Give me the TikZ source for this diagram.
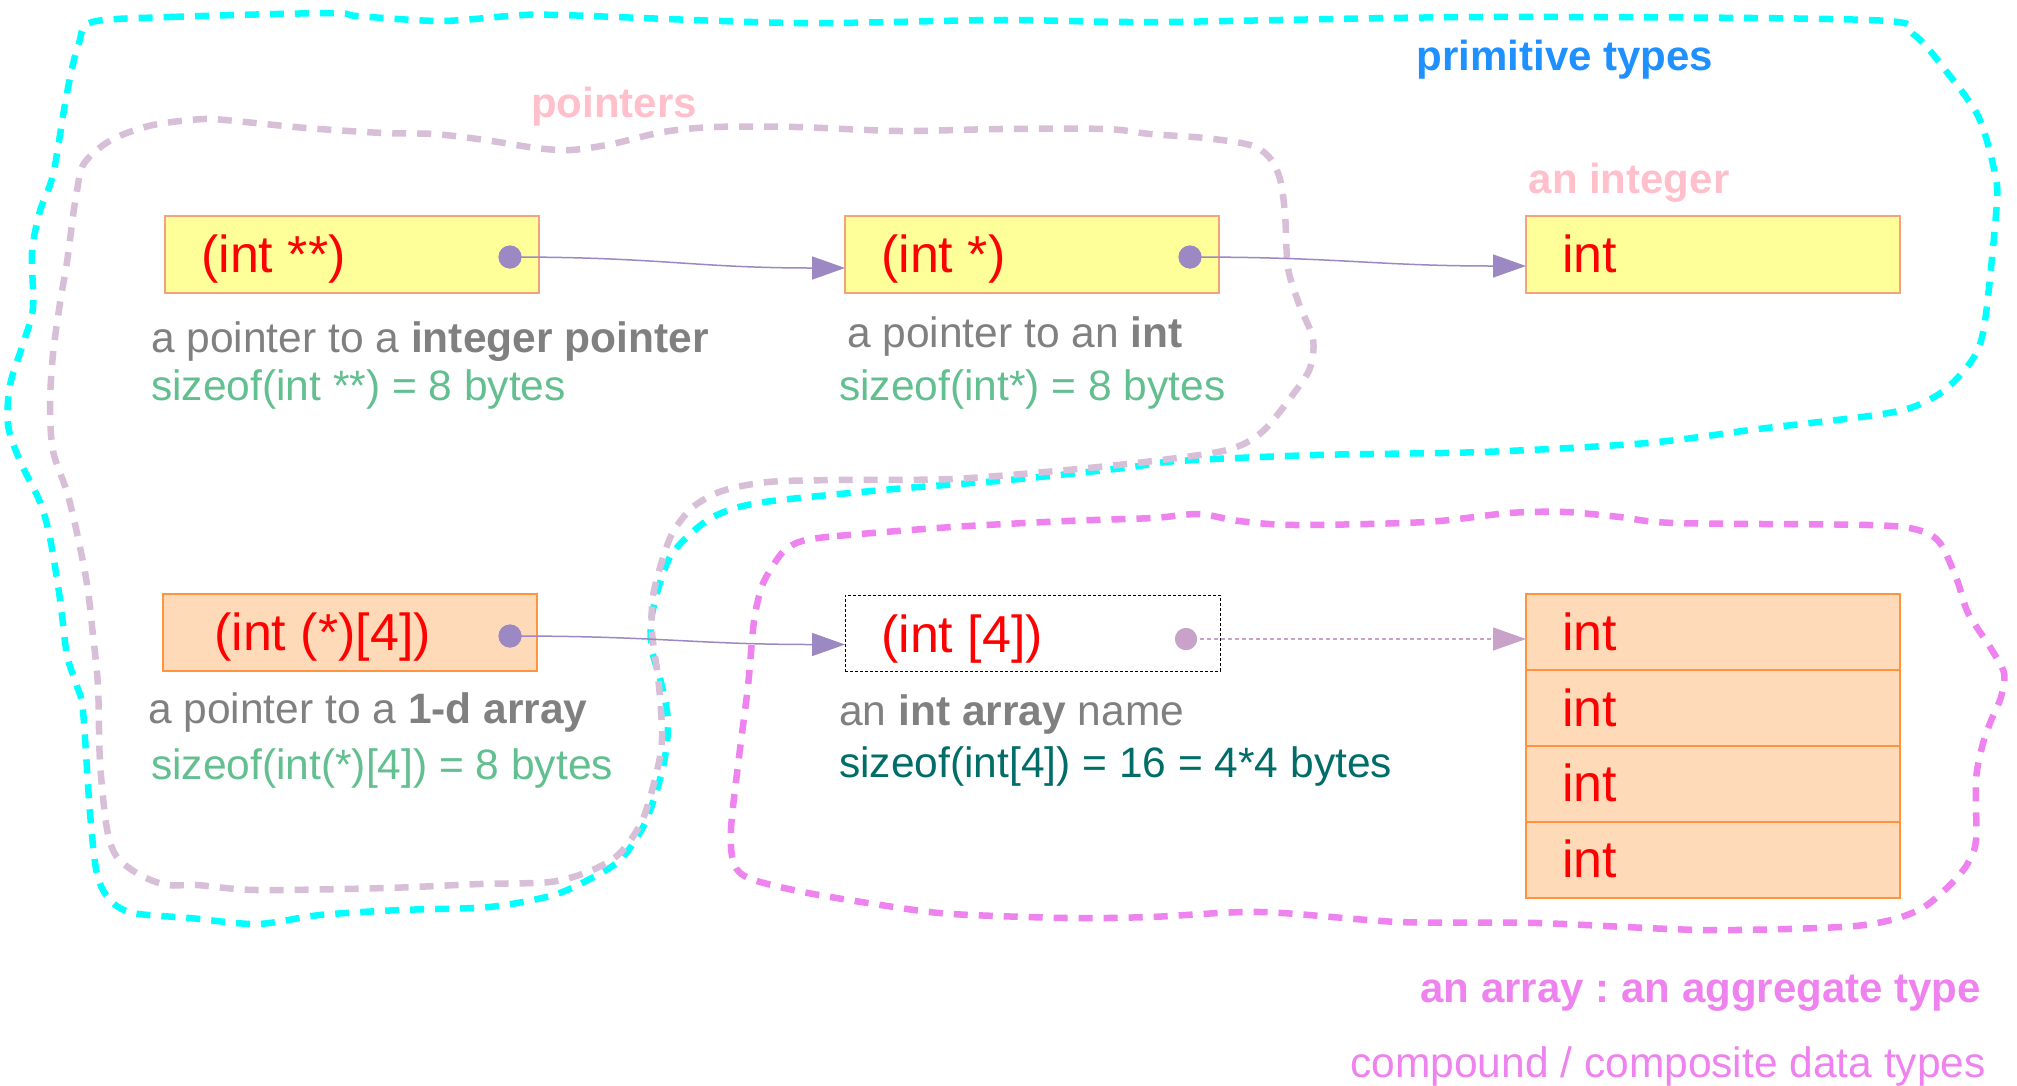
\documentclass[tikz,border=0pt]{standalone}
\usepackage{fontspec}
\setmainfont{Liberation Sans}
\usetikzlibrary{arrows.meta,calc}

\definecolor{primcyan}{HTML}{00FFFF}
\definecolor{ptrthistle}{HTML}{D8BFD8}
\definecolor{arrviolet}{HTML}{EE82EE}
\definecolor{titleblue}{HTML}{1E90FF}
\definecolor{titlepink}{HTML}{FFC0CB}
\definecolor{descgray}{HTML}{808080}
\definecolor{sizegreen}{HTML}{62BF8F}
\definecolor{sizeteal}{HTML}{006D68}
\definecolor{edgepurple}{HTML}{9C88C2}
\definecolor{edgelilac}{HTML}{C8A2C8}
\definecolor{boxyellow}{HTML}{FFFF99}
\definecolor{boxpeach}{HTML}{FFDAB9}
\definecolor{yellowedge}{HTML}{F5A27A}
\definecolor{peachedge}{HTML}{FF9440}
\definecolor{typered}{HTML}{FF0000}

\begin{document}
\frenchspacing
\begin{tikzpicture}[x=1pt,y=-1pt,
  cluster/.style={line width=6.5pt,dash pattern=on 14pt off 11pt},
  ybox/.style={draw=yellowedge,fill=boxyellow,line width=1.2pt,outer sep=0pt,inner sep=0pt,
    minimum width=374pt,minimum height=77pt,anchor=north west},
  pbox/.style={draw=peachedge,fill=boxpeach,line width=1.5pt,outer sep=0pt,inner sep=0pt,
    minimum width=374pt,minimum height=77pt,anchor=north west},
  cellbox/.style={pbox,minimum height=76pt},
  namebox/.style={draw=black,dash pattern=on 3pt off 2pt,line width=1pt,outer sep=0pt,inner sep=0pt,
    minimum width=375pt,minimum height=76pt,anchor=north west},
  typetext/.style={text=typered,inner sep=0pt,anchor=base west,font=\fontsize{52}{60}\selectfont},
  desc/.style={text=descgray,inner sep=0pt,anchor=base west,font=\fontsize{42.5}{50}\selectfont},
  sizetext/.style={text=sizegreen,inner sep=0pt,anchor=base west,font=\fontsize{42.5}{50}\selectfont},
  title/.style={inner sep=0pt,font=\fontsize{42}{50}\selectfont\bfseries},
  ptrdot/.style={circle,fill=edgepurple,inner sep=0pt,minimum size=23pt},
  ptredge/.style={draw=edgepurple,line width=1.5pt,-{Triangle[length=33pt,width=23pt]}},
]
\useasboundingbox (0,0) rectangle (2017,1085);
\fill[white] (0,0) rectangle (2017,1085);

% cluster: primitive types
\draw[cluster,draw=primcyan] plot[smooth cycle,tension=0.5] coordinates {
 (92,22) (170,17) (330,13) (357,16) (440,21) (510,16) (560,15) (796,23) (1000,20)
 (1158,22) (1482,17) (1869,20) (1913,34) (1946,71) (1979,118) (1996,179) (1996,214)
 (1985,321) (1974,357) (1946,389) (1913,407) (1869,416) (1758,429) (1647,443)
 (1482,452) (1316,455) (1178,461) (1124,468) (1009,480) (894,489) (780,500)
 (739,507) (711,518) (688,536) (670,557) (659,586) (651,621) (652,650) (662,686)
 (668,721) (665,757) (656,793) (642,829) (619,861) (584,882) (550,896) (489,907)
 (400,910) (320,915) (257,924) (190,918) (133,913) (110,900) (97,874) (90,813)
 (83,711) (77,686) (67,655) (60,599) (50,538) (40,502) (20,461) (8,425) (10,385)
 (23,344) (33,308) (32,252) (40,211) (53,175) (64,110) (71,73) (79,43)};

% cluster: pointers
\draw[cluster,draw=ptrthistle] plot[smooth cycle,tension=0.5] coordinates {
 (76,197) (82,167) (97,150) (117,137) (153,125) (204,119) (245,122) (306,128)
 (383,133) (434,134) (485,140) (536,148) (571,150) (612,144) (663,132) (714,127)
 (796,127) (900,131) (1000,129) (1106,129) (1150,134) (1205,138) (1250,145)
 (1269,157) (1280,179) (1285,214) (1288,268) (1299,304) (1313,339) (1310,368)
 (1294,393) (1262,432) (1227,450) (1153,461) (1067,470) (952,479) (837,480)
 (768,482) (722,491) (693,507) (673,532) (662,561) (653,596) (652,632) (659,686)
 (662,739) (656,775) (642,821) (619,854) (590,871) (550,882) (480,884) (386,888)
 (257,890) (197,885) (167,885) (140,875) (117,857) (107,829) (100,762) (98,686)
 (93,635) (87,584) (77,533) (67,492) (53,451) (50,405) (53,354) (60,303) (67,262)
 (73,216)};

% cluster: the array
\draw[cluster,draw=arrviolet] plot[smooth cycle,tension=0.5] coordinates {
 (802,541) (837,536) (952,527) (1067,521) (1153,518) (1199,514) (1239,521)
 (1296,525) (1426,522) (1509,513) (1565,512) (1620,517) (1675,523) (1869,525)
 (1918,530) (1940,543) (1957,580) (1968,613) (1990,647) (2004,673) (2001,697)
 (1990,723) (1982,747) (1976,780) (1976,840) (1968,863) (1952,883) (1924,907)
 (1891,920) (1841,927) (1703,930) (1537,923) (1399,922) (1261,912) (1150,917)
 (1067,918) (952,914) (894,907) (808,893) (751,879) (734,864) (731,829) (739,757)
 (748,686) (754,621) (762,586) (774,564) (785,550)};

% cluster titles
\node[title,text=titleblue,anchor=base] (tprim) at (1565,70) {primitive types};
\node[title,text=titlepink,anchor=base] (tptr) at (614,117) {pointers};
\node[title,text=titlepink,anchor=base] (tint) at (1629,193) {an integer};
\node[title,text=arrviolet,anchor=base east] (tarr) at (1981,1002) {an array : an aggregate type};
\node[inner sep=0pt,font=\fontsize{42.5}{50}\selectfont,text=arrviolet,anchor=base east] (tcomp)
  at (1986,1077) {compound / composite data types};

% boxes
\node[ybox] (A) at (165,216) {};
\node[ybox] (B) at (845,216) {};
\node[ybox] (C) at (1526,216) {};
\node[pbox] (D) at (163,594) {};
\node[namebox] (E) at (845,595) {};
\node[cellbox] (F1) at (1526,594) {};
\node[cellbox] (F2) at (1526,670) {};
\node[cellbox] (F3) at (1526,746) {};
\node[cellbox] (F4) at (1526,822) {};

% type names
\node[typetext] (tA) at (201,272) {(int **)};
\node[typetext] (tB) at (881,272) {(int *)};
\node[typetext] (tC) at (1562,272) {int};
\node[typetext] (tD) at (214,650) {(int (*)[4])};
\node[typetext] (tE) at (881,652) {(int [4])};
\node[typetext] (tF1) at (1562,650) {int};
\node[typetext] (tF2) at (1562,726) {int};
\node[typetext] (tF3) at (1562,801) {int};
\node[typetext] (tF4) at (1562,877) {int};

% pointer dots
\node[ptrdot] (dA) at (510,257) {};
\node[ptrdot] (dB) at (1190,257) {};
\node[ptrdot] (dD) at (510,636) {};
\node[ptrdot,fill=edgelilac,minimum size=22pt] (dE) at (1186,639) {};

% connectors
\draw[ptredge] (dA.center) .. controls +(150,0) and +(-150,0) .. ([yshift=-13.5pt]B.west);
\draw[ptredge] (dB.center) .. controls +(150,0) and +(-150,0) .. ([yshift=-11.5pt]C.west);
\draw[ptredge] (dD.center) .. controls +(150,0) and +(-150,0) .. ([yshift=-12pt]D.west -| E.west);
\draw[draw=edgelilac,line width=1.2pt,dash pattern=on 4pt off 3pt,
  -{Triangle[length=33pt,width=23pt,fill=edgelilac,sep=0pt]}]
  (dE.center) -- (dE.center -| F1.west);
\node[ptrdot,fill=edgelilac,minimum size=22pt] at (dE) {};
\node[ptrdot] at (dA) {};
\node[ptrdot] at (dB) {};
\node[ptrdot] at (dD) {};

% descriptions
\node[desc] (lA1) at (151,352) {a pointer to a \textbf{integer pointer}};
\node[sizetext] (lA2) at (151,400) {sizeof(int **) = 8 bytes};
\node[desc] (lB1) at (847,347) {a pointer to an \textbf{int}};
\node[sizetext] (lB2) at (839,400) {sizeof(int*) = 8 bytes};
\node[desc] (lD1) at (148,723) {a pointer to a \textbf{1-d array}};
\node[sizetext] (lD2) at (151,779) {sizeof(int(*)[4]) = 8 bytes};
\node[desc] (lE1) at (839,725) {an \textbf{int array} name};
\node[sizetext,text=sizeteal] (lE2) at (839,777) {sizeof(int[4]) = 16 = 4*4 bytes};
\end{tikzpicture}
\end{document}
